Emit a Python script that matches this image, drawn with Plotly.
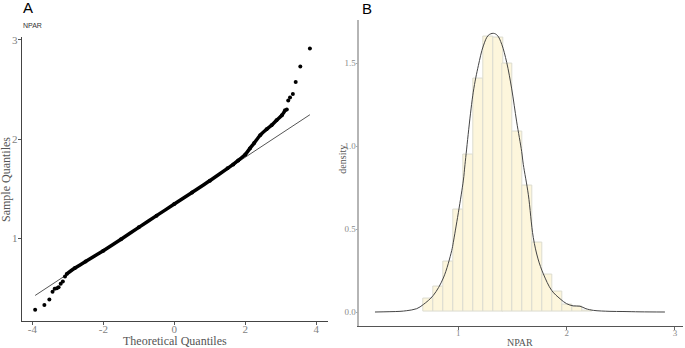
import plotly.graph_objects as go

W, H = 685, 348

# ---------------- Panel A: QQ plot data ----------------
qq_tail_low_x = [-3.92, -3.66, -3.52, -3.43, -3.37, -3.31, -3.26, -3.20, -3.14, -3.08]
qq_tail_low_y = [0.280, 0.326, 0.383, 0.460, 0.490, 0.496, 0.506, 0.540, 0.563, 0.613]

qq_body_x = [-3.03, -2.8, -2.5, -2.0, -1.5, -1.0, -0.5, 0.0, 0.5, 1.0, 1.5, 1.66, 1.8, 2.0, 2.13, 2.25, 2.42, 2.6, 2.74, 2.88, 3.03, 3.12]
qq_body_y = [0.640, 0.700, 0.765, 0.875, 0.990, 1.110, 1.228, 1.345, 1.462, 1.580, 1.705, 1.745, 1.785, 1.845, 1.906, 1.960, 2.040, 2.100, 2.140, 2.190, 2.240, 2.290]

qq_tail_high_x = [3.17, 3.21, 3.26, 3.34, 3.42, 3.55, 3.82]
qq_tail_high_y = [2.300, 2.390, 2.420, 2.456, 2.575, 2.733, 2.913]

qq_line_x = [-3.92, 3.82]
qq_line_y = [0.423, 2.246]

a_xticks = [-4, -2, 0, 2, 4]
a_xticklabels = ["-4", "-2", "0", "2", "4"]
a_yticks = [1, 2, 3]

# ---------------- Panel B: histogram + density ----------------
bin_centers = [0.723, 0.815, 0.906, 0.998, 1.090, 1.181, 1.273, 1.365, 1.456, 1.548,
               1.640, 1.731, 1.823, 1.915, 2.006, 2.098, 2.190]
bin_density = [0.084, 0.154, 0.303, 0.618, 0.950, 1.405, 1.660, 1.654, 1.500, 1.086,
               0.760, 0.417, 0.224, 0.124, 0.042, 0.032, 0.010]
bin_width = 0.0917

dens_x = [0.231, 0.369, 0.462, 0.524, 0.616, 0.677, 0.769, 0.862, 0.939, 0.954, 1.046, 1.062,
          1.138, 1.185, 1.231, 1.277, 1.323, 1.360, 1.401, 1.447, 1.493, 1.539, 1.585, 1.600,
          1.646, 1.692, 1.736, 1.785, 1.862, 1.939, 2.000, 2.061, 2.123, 2.178, 2.246, 2.400,
          2.520, 2.677, 2.907]
dens_y = [0.000, 0.002, 0.004, 0.008, 0.020, 0.045, 0.100, 0.205, 0.370, 0.420, 0.790, 0.890,
          1.325, 1.485, 1.604, 1.668, 1.680, 1.668, 1.614, 1.504, 1.345, 1.146, 0.967, 0.890,
          0.710, 0.450, 0.320, 0.230, 0.130, 0.080, 0.050, 0.037, 0.035, 0.020, 0.010, 0.004,
          0.003, 0.001, 0.000]

b_xticks = [1, 2, 3]
b_yticks = [0.0, 0.5, 1.0, 1.5]
b_yticklabels = ["0.0", "0.5", "1.0", "1.5"]

# ---------------- Figure ----------------
fig = go.Figure()

# Panel A
fig.add_trace(go.Scatter(x=qq_line_x, y=qq_line_y, mode="lines",
                         line=dict(color="#555555", width=1), xaxis="x", yaxis="y",
                         showlegend=False, hoverinfo="skip"))
fig.add_trace(go.Scatter(x=qq_body_x, y=qq_body_y, mode="lines+markers",
                         line=dict(color="black", width=3.5, shape="spline", smoothing=0.6),
                         marker=dict(color="black", size=4),
                         xaxis="x", yaxis="y", showlegend=False))
fig.add_trace(go.Scatter(x=qq_tail_low_x + qq_tail_high_x, y=qq_tail_low_y + qq_tail_high_y,
                         mode="markers", marker=dict(color="black", size=4),
                         xaxis="x", yaxis="y", showlegend=False))

# Panel B
fig.add_trace(go.Bar(x=bin_centers, y=bin_density, width=bin_width,
                     marker=dict(color="#fdf6dc", line=dict(color="#dcdcd0", width=1)),
                     xaxis="x2", yaxis="y2", showlegend=False))
fig.add_trace(go.Scatter(x=dens_x, y=dens_y, mode="lines", line=dict(color="#444444", width=1, shape="spline"),
                         xaxis="x2", yaxis="y2", showlegend=False))

tickfont = dict(family="Liberation Serif", size=11, color="#7f7f7f")
tickfont_b = dict(family="Liberation Serif", size=9, color="#8a8a8a")

fig.update_layout(
    width=W, height=H,
    margin=dict(l=0, r=0, t=0, b=0),
    paper_bgcolor="white", plot_bgcolor="white",
    bargap=0,
    xaxis=dict(domain=[21.7 / W, 328 / W], range=[-4.299, 4.33], anchor="y",
               tickvals=a_xticks, ticktext=a_xticklabels, ticks="outside", ticklen=3, tickcolor="#555555",
               ticklabelstandoff=-5,
               showline=True, linecolor="#444444", linewidth=1, showgrid=False, zeroline=False,
               tickfont=tickfont),
    yaxis=dict(domain=[1 - 320.7 / H, 1 - 34 / H], range=[0.166, 3.033], anchor="x",
               tickvals=a_yticks, ticks="outside", ticklen=3, tickcolor="#555555",
               ticklabelstandoff=-2,
               showline=True, linecolor="#444444", linewidth=1, showgrid=False, zeroline=False,
               tickfont=tickfont),
    xaxis2=dict(domain=[359.3 / W, 683 / W], range=[0.0863, 3.074], anchor="y2",
                tickvals=b_xticks, ticks="outside", ticklen=3, tickcolor="#666666",
                ticklabelstandoff=-5,
                showline=True, linecolor="#555555", linewidth=1, showgrid=False, zeroline=False,
                tickfont=tickfont_b),
    yaxis2=dict(domain=[1 - 326 / H, 1 - 16.7 / H], range=[-0.0855, 1.763], anchor="x2",
                tickvals=b_yticks, ticktext=b_yticklabels, ticks="outside", ticklen=2, tickcolor="#aaaaaa",
                ticklabelstandoff=-2,
                showline=True, linecolor="#b5b5b5", linewidth=1.5, showgrid=False, zeroline=False,
                tickfont=tickfont_b),
)

ann = []
def add_text(text, x, y, size, family, color, angle=0, xanchor="center"):
    ann.append(dict(text=text, x=x / W, y=1 - y / H, xref="paper", yref="paper",
                    showarrow=False, textangle=angle, xanchor=xanchor, yanchor="middle",
                    font=dict(size=size, family=family, color=color)))

add_text("A", 21, 5, 15, "Liberation Sans", "black", xanchor="left")
add_text("B", 360, 6, 15, "Liberation Sans", "black", xanchor="left")
add_text("NPAR", 21, 23, 7, "Liberation Sans", "#333333", xanchor="left")
add_text("Theoretical Quantiles", 174.5, 341, 12, "Liberation Serif", "#555555")
add_text("Sample Quantiles", 6, 178.5, 12, "Liberation Serif", "#555555", angle=-90)
add_text("NPAR", 520, 342, 10, "Liberation Serif", "#555555")
add_text("density", 342.5, 157.5, 10, "Liberation Serif", "#555555", angle=-90)
fig.update_layout(annotations=ann)

fig.write_html("out.html", config={"displayModeBar": False},
               post_script="document.body.style.margin='0px';document.body.style.overflow='hidden';")
